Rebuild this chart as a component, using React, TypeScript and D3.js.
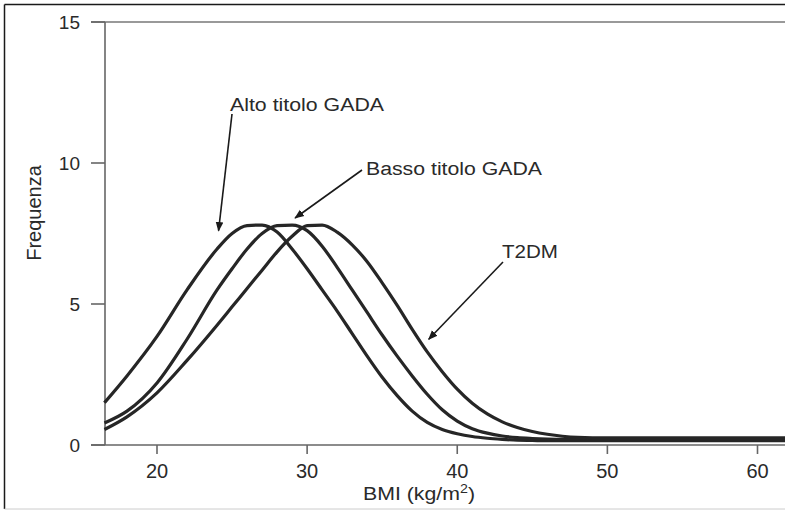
import React from "react";
import * as d3 from "d3";

const bmi = [16.5, 18, 20, 22, 24, 25, 26, 27, 28, 29, 30, 31, 32, 33, 34, 35, 36, 37, 38, 39, 40, 41, 42, 43, 44, 45, 46, 47, 48, 50, 55, 60, 62.5];
const alto = [1.5, 2.45, 3.85, 5.5, 6.95, 7.5, 7.78, 7.8, 7.55, 6.95, 6.25, 5.5, 4.75, 3.95, 3.15, 2.4, 1.75, 1.2, 0.8, 0.55, 0.4, 0.3, 0.24, 0.2, 0.17, 0.16, 0.15, 0.15, 0.15, 0.15, 0.15, 0.15, 0.15];
const basso = [0.78, 1.2, 2.2, 3.75, 5.5, 6.25, 6.95, 7.5, 7.78, 7.8, 7.6, 7.05, 6.3, 5.5, 4.7, 3.9, 3.15, 2.45, 1.8, 1.25, 0.85, 0.58, 0.42, 0.32, 0.26, 0.23, 0.21, 0.2, 0.2, 0.2, 0.2, 0.2, 0.2];
const t2dm = [0.55, 1.0, 1.85, 3.0, 4.25, 4.9, 5.55, 6.2, 6.85, 7.4, 7.78, 7.8, 7.55, 7.1, 6.5, 5.75, 4.95, 4.1, 3.3, 2.6, 1.98, 1.48, 1.1, 0.82, 0.62, 0.48, 0.38, 0.31, 0.27, 0.25, 0.25, 0.25, 0.25];
const xTicks = [20, 30, 40, 50, 60];
const yTicks = [0, 5, 10, 15];
const seriesNames = ["Alto titolo GADA", "Basso titolo GADA", "T2DM"];

export default function App() {
  const x = d3.scaleLinear().domain([20, 60]).range([157, 757.5]);
  const y = d3.scaleLinear().domain([0, 15]).range([445, 22]);
  const line = d3
    .line<number>()
    .x((_, i) => x(bmi[i]))
    .y((d) => y(d))
    .curve(d3.curveMonotoneX);
  const series = [alto, basso, t2dm];
  const font = "'Liberation Sans', Arial, sans-serif";
  const txt = "#2a2a2a";

  const arrows = [
    { name: seriesNames[0], tx: 230, ty: 111, len: 154, x1: 232, y1: 114, x2: x(24.1), y2: y(7.6) },
    { name: seriesNames[1], tx: 366, ty: 175, len: 176, x1: 362, y1: 170, x2: x(29.2), y2: y(8.05) },
    { name: seriesNames[2], tx: 502, ty: 258, len: 56, x1: 503, y1: 262, x2: x(38.1), y2: y(3.75) },
  ];

  return (
    <svg
      width={785}
      height={511}
      style={{ position: "absolute", left: 0, top: 0, background: "#fff" }}
    >
      <defs>
        <marker id="ah" viewBox="0 0 10 10" refX="9" refY="5" markerWidth="6" markerHeight="6" orient="auto">
          <path d="M0,1 L10,5 L0,9 z" fill="#1a1a1a" />
        </marker>
      </defs>
      <line x1={4.5} y1={4.5} x2={785} y2={4.5} stroke="#1a1a1a" strokeWidth={1.5} />
      <line x1={4.5} y1={4.5} x2={4.5} y2={509} stroke="#1a1a1a" strokeWidth={1.5} />
      <line x1={4.5} y1={509} x2={785} y2={509} stroke="#ccc" strokeWidth={1} />

      <line x1={91} y1={y(15)} x2={785} y2={y(15)} stroke="#777" strokeWidth={1.6} />
      <line x1={105} y1={y(15)} x2={105} y2={y(0)} stroke="#666" strokeWidth={1.6} />
      <line x1={91} y1={y(0)} x2={785} y2={y(0)} stroke="#666" strokeWidth={1.6} />
      {yTicks.map((t) => (
        <g key={"y" + t}>
          <line x1={91} x2={105} y1={y(t)} y2={y(t)} stroke="#666" strokeWidth={1.6} />
          <text x={80} y={y(t)} dy="0.36em" textAnchor="end" fontFamily={font} fontSize={19} fill={txt}>
            {t}
          </text>
        </g>
      ))}
      {xTicks.map((t) => (
        <g key={"x" + t}>
          <line x1={x(t)} x2={x(t)} y1={y(0)} y2={y(0) + 9} stroke="#666" strokeWidth={1.6} />
          <text x={x(t)} y={478} textAnchor="middle" fontFamily={font} fontSize={20} fill={txt}>
            {t}
          </text>
        </g>
      ))}
      <text
        transform={`translate(41,213) rotate(-90)`}
        textAnchor="middle"
        fontFamily={font}
        fontSize={20}
        fill={txt}
      >
        Frequenza
      </text>
      <text x={363} y={500} fontFamily={font} fontSize={18} fill={txt} textLength={112} lengthAdjust="spacingAndGlyphs">
        BMI (kg/m<tspan dy={-7} fontSize={12}>2</tspan><tspan dy={7}>)</tspan>
      </text>

      {series.map((s, i) => (
        <path key={i} d={line(s) || ""} fill="none" stroke="#262626" strokeWidth={3.2} strokeLinejoin="round" />
      ))}

      {arrows.map((a) => (
        <g key={a.name}>
          <text x={a.tx} y={a.ty} fontFamily={font} fontSize={18} fill={txt} textLength={a.len} lengthAdjust="spacingAndGlyphs">
            {a.name}
          </text>
          <line x1={a.x1} y1={a.y1} x2={a.x2} y2={a.y2} stroke="#1a1a1a" strokeWidth={1.6} markerEnd="url(#ah)" />
        </g>
      ))}
    </svg>
  );
}
